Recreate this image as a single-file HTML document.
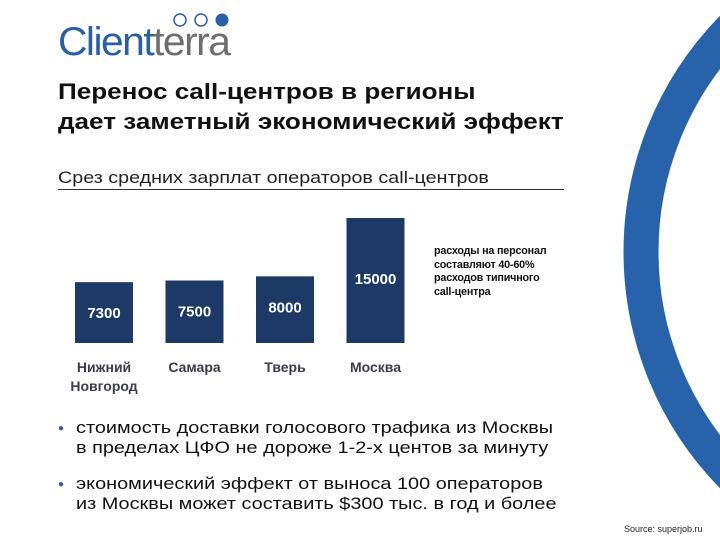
<!DOCTYPE html>
<html><head><meta charset="utf-8"><style>
body{margin:0;width:720px;height:540px;background:#fff;position:relative;overflow:hidden;font-family:"Liberation Sans",sans-serif}
.abs{position:absolute}
.sx{transform-origin:0 0}
</style></head><body>
<svg class="abs" style="left:0;top:0" width="720" height="540">
<circle cx="961" cy="252" r="320" fill="none" stroke="#2862aa" stroke-width="35"/>
<circle cx="180" cy="20" r="6" fill="none" stroke="#2a5ea8" stroke-width="1.5"/>
<circle cx="201" cy="20" r="6" fill="none" stroke="#2a5ea8" stroke-width="1.5"/>
<circle cx="222" cy="20" r="6.5" fill="#2a5ea8"/>
</svg>
<div class="abs sx" style="left:58px;top:22px;font-size:40px;letter-spacing:-1.5px;line-height:40px;transform:scaleX(1.02)"><span style="color:#2a5ea8">Client</span><span style="color:#6d6e71">terra</span></div>
<div class="abs sx" style="left:58px;top:77px;font-size:22px;font-weight:bold;line-height:30px;color:#111;transform:scaleX(1.185);white-space:nowrap">Перенос call-центров в регионы<br>дает заметный экономический эффект</div>
<div class="abs" style="left:58px;top:189px;width:506px;height:1px;background:#333"></div>
<div class="abs sx" style="left:58px;top:168px;font-size:17px;color:#222;line-height:20px;white-space:nowrap;transform:scaleX(1.16)">Срез средних зарплат операторов call-центров</div>
<svg class="abs" style="left:0;top:0" width="720" height="540" id="chart"></svg>
<div class="abs sx" style="left:434px;top:245px;font-size:11px;line-height:13.5px;color:#111;letter-spacing:-0.2px;font-weight:bold;white-space:nowrap;transform:scaleX(0.98)">расходы на персонал<br>составляют 40-60%<br>расходов типичного<br>call-центра</div>
<div class="abs" style="left:58px;top:418px;font-size:17px;line-height:20px;color:#111;width:560px;height:42px"><span style="color:#2a5ea8;font-size:10px;position:absolute;left:0;top:1px">●</span><div class="sx" style="margin-left:18px;white-space:nowrap;transform:scaleX(1.17)">стоимость доставки голосового трафика из Москвы<br>в пределах ЦФО не дороже 1-2-х центов за минуту</div></div>
<div class="abs" style="left:58px;top:474px;font-size:17px;line-height:20px;color:#111;width:560px;height:42px"><span style="color:#2a5ea8;font-size:10px;position:absolute;left:0;top:1px">●</span><div class="sx" style="margin-left:18px;white-space:nowrap;transform:scaleX(1.17)">экономический эффект от выноса 100 операторов<br>из Москвы может составить $300 тыс. в год и более</div></div>
<div class="abs" style="left:624px;top:524px;font-size:9px;line-height:11px;color:#222">Source: superjob.ru</div>
<script>
const categories=[["Нижний","Новгород"],["Самара"],["Тверь"],["Москва"]];
const values=[7300,7500,8000,15000];
const valueLabels=["7300","7500","8000","15000"];
const svg=document.getElementById('chart');
const NS="http://www.w3.org/2000/svg";
const baseY=343,scale=125/15000,barW=58,x0=75,step=90.5;
function y(v){return baseY-v*scale;}
function xb(i){return x0+i*step;}
values.forEach((v,i)=>{
 const r=document.createElementNS(NS,'rect');
 r.setAttribute('x',xb(i));r.setAttribute('y',y(v));r.setAttribute('width',barW);r.setAttribute('height',baseY-y(v));r.setAttribute('fill','#1d3a66');
 
 
 svg.appendChild(r);
 const t=document.createElementNS(NS,'text');
 const ty=i===3?y(v)+66:(i===2?y(v)+36:Math.min(318,y(v)+36));
 t.setAttribute('x',xb(i)+barW/2);t.setAttribute('y',ty);t.setAttribute('text-anchor','middle');
 t.setAttribute('fill','#fff');t.setAttribute('font-size','15');t.setAttribute('font-weight','bold');t.setAttribute('font-family','Liberation Sans, sans-serif');
 t.textContent=valueLabels[i];
 
 
 svg.appendChild(t);
 categories[i].forEach((line,k)=>{
  const c=document.createElementNS(NS,'text');
  c.setAttribute('x',xb(i)+barW/2);c.setAttribute('y',372+k*19);c.setAttribute('text-anchor','middle');
  c.setAttribute('fill','#3a3d4a');c.setAttribute('font-size','14');c.setAttribute('font-weight','bold');c.setAttribute('font-family','Liberation Sans, sans-serif');
  c.textContent=line;
  
  
  svg.appendChild(c);
 });
});
</script>
</body></html>
